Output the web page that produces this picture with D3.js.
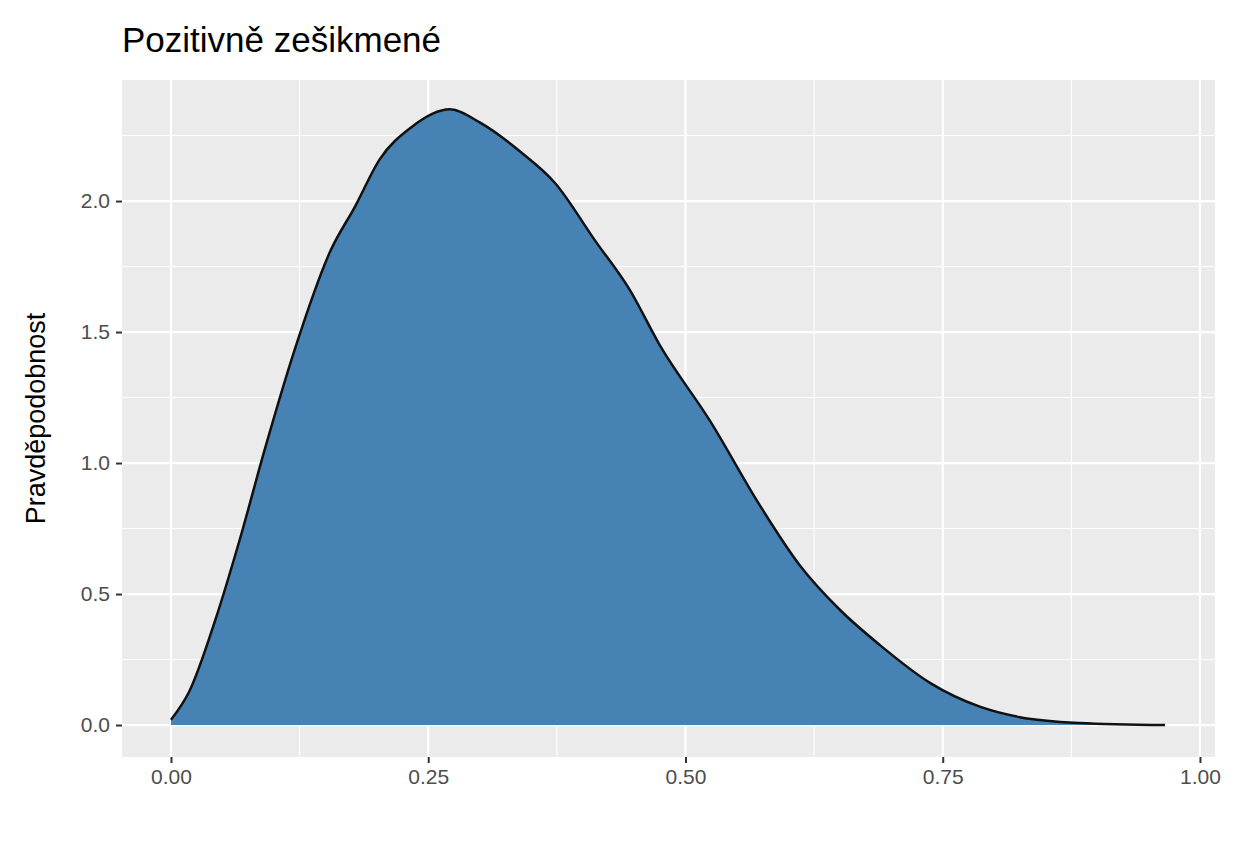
<!DOCTYPE html>
<html>
<head>
<meta charset="utf-8">
<script src="https://cdn.jsdelivr.net/npm/d3@7"></script>
<style>
  body { margin: 0; background: #fff; }
  text { font-family: "Liberation Sans", Arial, sans-serif; }
</style>
</head>
<body>
<div id="chart"></div>
<script>
  // density values
  const xs = [0, 0.018, 0.043, 0.067, 0.091, 0.12, 0.155, 0.179, 0.203, 0.233, 0.271, 0.30,
    0.339, 0.373, 0.412, 0.446, 0.475, 0.524, 0.572, 0.611, 0.65, 0.689, 0.738, 0.786,
    0.825, 0.883, 0.966];
  const ys = [0.02, 0.13, 0.40, 0.71, 1.05, 1.43, 1.81, 1.98, 2.16, 2.28, 2.35, 2.30,
    2.19, 2.07, 1.85, 1.66, 1.45, 1.16, 0.84, 0.61, 0.44, 0.305, 0.16, 0.07,
    0.03, 0.008, 0.0];
  const xTicks = [0, 0.25, 0.5, 0.75, 1];
  const yTicks = [0, 0.5, 1, 1.5, 2];
  const title = "Pozitivně zešikmené";
  const yLabel = "Pravděpodobnost";

  const width = 1234, height = 864;
  const panel = { left: 122, right: 1215, top: 80, bottom: 757 };

  const svg = d3.select("#chart").append("svg")
    .attr("width", width).attr("height", height);

  const x = d3.scaleLinear().domain([-0.0476, 1.0146]).range([panel.left, panel.right]);
  const y = d3.scaleLinear().domain([-0.122, 2.462]).range([panel.bottom, panel.top]);

  svg.append("rect")
    .attr("x", panel.left).attr("y", panel.top)
    .attr("width", panel.right - panel.left).attr("height", panel.bottom - panel.top)
    .attr("fill", "#ebebeb");

  const grid = svg.append("g");
  const minorX = xTicks.slice(0, -1).map(d => d + 0.125);
  const minorY = yTicks.map(d => d + 0.25);
  grid.selectAll(".mx").data(minorX).enter().append("line")
    .attr("x1", d => x(d)).attr("x2", d => x(d))
    .attr("y1", panel.top).attr("y2", panel.bottom)
    .attr("stroke", "#fff").attr("stroke-width", 1.1);
  grid.selectAll(".my").data(minorY).enter().append("line")
    .attr("y1", d => y(d)).attr("y2", d => y(d))
    .attr("x1", panel.left).attr("x2", panel.right)
    .attr("stroke", "#fff").attr("stroke-width", 1.1);
  grid.selectAll(".gx").data(xTicks).enter().append("line")
    .attr("x1", d => x(d)).attr("x2", d => x(d))
    .attr("y1", panel.top).attr("y2", panel.bottom)
    .attr("stroke", "#fff").attr("stroke-width", 2.2);
  grid.selectAll(".gy").data(yTicks).enter().append("line")
    .attr("y1", d => y(d)).attr("y2", d => y(d))
    .attr("x1", panel.left).attr("x2", panel.right)
    .attr("stroke", "#fff").attr("stroke-width", 2.2);

  const pts = xs.map((d, i) => [d, ys[i]]);
  const area = d3.area().x(d => x(d[0])).y0(y(0)).y1(d => y(d[1])).curve(d3.curveMonotoneX);
  const line = d3.line().x(d => x(d[0])).y(d => y(d[1])).curve(d3.curveMonotoneX);
  svg.append("path").datum(pts).attr("d", area).attr("fill", "#4682b4");
  svg.append("path").datum(pts).attr("d", line).attr("fill", "none")
    .attr("stroke", "#111").attr("stroke-width", 2.5);

  const fmt = d3.format(".2f");
  const xa = svg.append("g").attr("transform", `translate(0,${panel.bottom})`)
    .call(d3.axisBottom(x).tickValues(xTicks).tickFormat(fmt).tickSize(6).tickPadding(6));
  const ya = svg.append("g").attr("transform", `translate(${panel.left},0)`)
    .call(d3.axisLeft(y).tickValues(yTicks).tickFormat(d3.format(".1f")).tickSize(6).tickPadding(6));
  [xa, ya].forEach(a => {
    a.select(".domain").remove();
    a.selectAll("line").attr("stroke", "#333").attr("stroke-width", 2);
    a.selectAll("text").attr("fill", "#4d4d4d").style("font-size", "21px");
  });

  svg.append("text").attr("x", 122).attr("y", 52)
    .attr("fill", "#000").style("font-size", "35px").text(title);
  svg.append("text")
    .attr("transform", `translate(45,${(panel.top + panel.bottom) / 2}) rotate(-90)`)
    .attr("text-anchor", "middle").attr("fill", "#000").style("font-size", "27px")
    .text(yLabel);
</script>
</body>
</html>
